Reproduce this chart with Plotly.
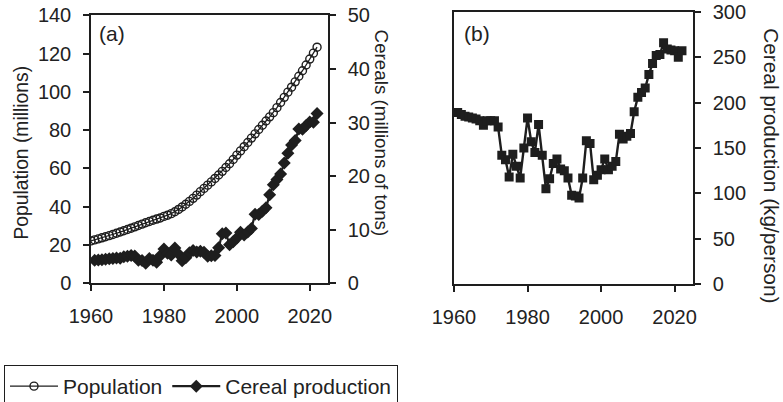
import plotly.graph_objects as go

# ---------------- data ----------------
years_pop = list(range(1960, 2023))
population = [22.15, 22.67, 23.21, 23.77, 24.34, 24.93, 25.53, 26.15, 26.79, 27.44,
              28.12, 28.80, 29.50, 30.22, 30.93, 31.62, 32.30, 32.96, 33.57, 34.16,
              34.95, 35.60, 36.40, 37.40, 38.60, 39.90, 41.30, 42.80, 44.40, 46.10,
              47.90, 49.60, 51.30, 53.00, 54.80, 56.60, 58.50, 60.50, 62.50, 64.70,
              67.00, 69.20, 71.40, 73.60, 75.90, 78.10, 80.40, 82.60, 84.80, 87.00,
              89.20, 91.80, 94.50, 97.20, 99.90, 102.50, 105.30, 108.20, 111.10, 114.10,
              117.20, 120.30, 123.40]

years_cer = list(range(1961, 2023))
cereal_mt = [4.28, 4.34, 4.40, 4.48, 4.56, 4.65, 4.71, 4.69, 4.94,
             5.06, 5.18, 5.10, 4.29, 4.24, 3.73, 4.62, 4.28, 3.93, 5.12,
             6.40, 5.59, 5.28, 6.58, 5.48, 4.19, 4.79, 5.69, 6.13, 5.85,
             5.99, 5.80, 5.03, 5.14, 5.21, 6.62, 9.24, 9.38, 7.19, 7.76,
             8.44, 9.55, 9.00, 9.57, 10.25, 12.89, 12.86, 13.46, 14.08, 16.53,
             18.38, 19.37, 20.41, 22.45, 24.28, 25.83, 26.64, 28.78, 28.77, 29.44,
             30.12, 30.08, 31.71]

cereal_kg = [189, 187, 185, 184, 183, 182, 180, 175, 180,
             180, 180, 173, 142, 137, 118, 143, 130, 117, 150,
             183, 157, 145, 176, 142, 105, 116, 133, 138, 127,
             125, 117, 98, 97, 95, 117, 158, 155, 115, 120,
             126, 138, 126, 130, 135, 165, 160, 163, 166, 190,
             206, 211, 216, 231, 243, 252, 253, 266, 259, 258,
             257, 250, 257]

xticks = [1960, 1980, 2000, 2020]

# ---------------- style ----------------
W, H = 783, 402
INK = "#1e1e1e"
TXT = "#222222"
FONT = "Liberation Sans, Arial, sans-serif"
FS = 20


def fx(p):
    return p / W


def fy(p):
    return 1 - p / H


fig = go.Figure()

fig.add_trace(go.Scatter(
    x=years_pop, y=population, name="Population", mode="lines+markers",
    line=dict(color=INK, width=1.3),
    marker=dict(symbol="circle-open", size=8, color=INK, line=dict(width=1.4, color=INK)),
    xaxis="x", yaxis="y"))

fig.add_trace(go.Scatter(
    x=years_cer, y=cereal_mt, name="Cereal production", mode="lines+markers",
    line=dict(color=INK, width=2.2),
    marker=dict(symbol="diamond", size=10, color=INK),
    xaxis="x", yaxis="y2"))

fig.add_trace(go.Scatter(
    x=years_cer, y=cereal_kg, name="Cereal production (kg/person)", mode="lines+markers",
    line=dict(color=INK, width=2.4),
    marker=dict(symbol="square", size=9, color=INK),
    showlegend=False, xaxis="x2", yaxis="y3"))

axis_common = dict(
    showline=True, linecolor=INK, linewidth=1.5,
    ticks="outside", ticklen=6, tickwidth=1.5, tickcolor=INK,
    showgrid=False, zeroline=False, automargin=False,
    tickfont=dict(family=FONT, size=FS, color=TXT),
    ticklabelstandoff=8,
)

a_dom_x = [fx(91), fx(328)]
a_dom_y = [fy(312), fy(17)]
b_dom_x = [fx(454), fx(693)]
b_dom_y = [fy(313), fy(13)]

fig.update_layout(
    width=W, height=H, autosize=False,
    margin=dict(l=0, r=0, t=0, b=0, pad=0),
    paper_bgcolor="white", plot_bgcolor="white",
    font=dict(family=FONT, size=FS, color=TXT),
    xaxis=dict(domain=a_dom_x, anchor="y", range=[1960, 2025], tickvals=xticks,
               mirror=True, **axis_common),
    yaxis=dict(domain=a_dom_y, anchor="x", range=[0, 140], dtick=20, **axis_common),
    yaxis2=dict(overlaying="y", anchor="x", side="right", range=[0, 50], dtick=10,
                **axis_common),
    xaxis2=dict(domain=b_dom_x, anchor="y3", range=[1960, 2025], tickvals=xticks,
                mirror=True, **axis_common),
    yaxis3=dict(domain=b_dom_y, anchor="x2", side="right", range=[0, 300], dtick=50,
                mirror=True, **axis_common),
    showlegend=True,
    legend=dict(orientation="h", xref="container", yref="container",
                x=fx(4), y=fy(365), xanchor="left", yanchor="top",
                bordercolor=INK, borderwidth=1, bgcolor="white",
                font=dict(family=FONT, size=21, color=TXT),
                itemwidth=48, tracegroupgap=0),
)

annotations = [
    dict(text="Population (millions)", x=fx(22), y=fy(168), textangle=-90, size=19.3),
    dict(text="Cereals (millions of tons)", x=fx(381), y=fy(146), textangle=90, size=18.8),
    dict(text="Cereal production (kg/person)", x=fx(772), y=fy(182), textangle=90, size=20.8),
    dict(text="(a)", x=fx(112), y=fy(37), textangle=0, size=21),
    dict(text="(b)", x=fx(477), y=fy(37), textangle=0, size=21),
]
for a in annotations:
    sz = a.pop("size")
    fig.add_annotation(xref="paper", yref="paper", showarrow=False,
                       xanchor="center", yanchor="middle",
                       font=dict(family=FONT, size=sz, color=TXT), **a)

fig.write_html("out.html")
